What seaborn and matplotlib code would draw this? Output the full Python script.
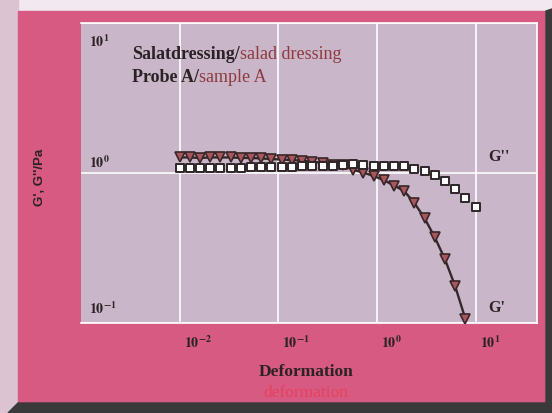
import matplotlib
matplotlib.use("Agg")
import pandas as pd
import matplotlib.pyplot as plt
import matplotlib.transforms as mtransforms
from matplotlib.patches import Rectangle, Polygon
import seaborn as sb

# amplitude sweep, salad dressing sample A
deformation = [0.0100, 0.0127, 0.0161, 0.0204, 0.0259, 0.0329, 0.0418, 0.0530, 0.0672, 0.0853,
               0.108, 0.137, 0.174, 0.221, 0.281, 0.356, 0.452, 0.574, 0.728, 0.924,
               1.17, 1.49, 1.89, 2.40, 3.04, 3.86, 4.89, 6.21, 7.88, 10.0]
g_storage = [1.26, 1.26, 1.25, 1.26, 1.26, 1.26, 1.25, 1.25, 1.24, 1.23,
             1.22, 1.21, 1.20, 1.18, 1.16, 1.12, 1.12, 1.04, 1.00, 0.948,
             0.891, 0.819, 0.753, 0.626, 0.497, 0.370, 0.265, 0.175, 0.106]
g_loss = [1.07, 1.07, 1.07, 1.07, 1.07, 1.07, 1.07, 1.08, 1.08, 1.08,
          1.09, 1.09, 1.10, 1.10, 1.105, 1.11, 1.12, 1.14, 1.13, 1.11,
          1.11, 1.11, 1.11, 1.055, 1.02, 0.96, 0.88, 0.78, 0.68, 0.59]
x_ticks = [0.01, 0.1, 1, 10]
x_ticklabels = [r"$\mathbf{10^{-2}}$", r"$\mathbf{10^{-1}}$", r"$\mathbf{10^{0}}$", r"$\mathbf{10^{1}}$"]
y_ticks = [10, 1, 0.1]
y_ticklabels = [r"$\mathbf{10^{1}}$", r"$\mathbf{10^{0}}$", r"$\mathbf{10^{-1}}$"]

df_gs = pd.DataFrame({"x": deformation[:len(g_storage)], "y": g_storage})
df_gl = pd.DataFrame({"x": deformation, "y": g_loss})

pink = "#d65a82"
plot_bg = "#c9b6c9"
dark = "#2e2628"
ink = "#2a2224"

sb.set_theme(style="white")
plt.rcParams["font.family"] = ["Liberation Serif", "DejaVu Serif"]
plt.rcParams["mathtext.fontset"] = "stix"

fig = plt.figure(figsize=(5.52, 4.14), dpi=100)
fig.patch.set_facecolor("#f1e9ef")
W, H = 552.0, 414.0
# frame: lavender strip left, pink panel, dark shadow
fig.add_artist(Rectangle((0, 0), 18 / W, 1, transform=fig.transFigure, color="#dcc3d1", zorder=0))
fig.add_artist(Rectangle((18 / W, 10 / H), (546 - 18) / W, (404 - 12) / H,
                         transform=fig.transFigure, color=pink, zorder=0))
fig.add_artist(Polygon([(8 / W, 0), (552 / W, 0), (552 / W, (414 - 10) / H), (546 / W, (414 - 12) / H),
                        (546 / W, 10 / H), (18 / W, 10 / H)],
                       closed=True, transform=fig.transFigure, color="#3a3a3a", zorder=0))

ax = fig.add_axes([81 / W, 1 - 323.5 / H, (537 - 81) / W, (323.5 - 23.5) / H])
ax.set_facecolor(plot_bg)
ax.set_xscale("log")
ax.set_yscale("log")
ax.set_xlim(1e-3, 42)
ax.set_ylim(0.1, 10)

sb.lineplot(x="x", y="y", data=df_gs, ax=ax, color="#33282a", linewidth=1.7, marker="v",
            markersize=7, markerfacecolor="#a8575c", markeredgecolor="#3a2628", markeredgewidth=1.2,
            zorder=3)
sb.scatterplot(x="x", y="y", data=df_gl, ax=ax, marker="s", s=34, color="white",
               edgecolor=dark, linewidth=1.4, zorder=4)

ax.set_xticks(x_ticks)
ax.set_xticklabels(x_ticklabels, fontsize=10)
ax.minorticks_off()
ax.set_yticks(y_ticks)
ax.set_yticklabels([])
ax.tick_params(axis="x", direction="out", length=11.5, width=1.2, color="white", pad=-3.5,
               labelcolor=ink)
ax.tick_params(axis="y", length=0)
shift = mtransforms.ScaledTranslation(3 / 72, 0, fig.dpi_scale_trans)
for lab in ax.get_xticklabels():
    lab.set_horizontalalignment("left")
    lab.set_transform(lab.get_transform() + shift)
ax.grid(True, color="white", linewidth=1.2)
for s in ax.spines.values():
    s.set_color("white")
    s.set_linewidth(1.2)
ax.spines["left"].set_visible(False)
ax.set_xlabel("")
ax.set_ylabel("")

# y labels sit inside the plot
ytr = ax.get_yaxis_transform()
ax.text(0.018, 10, y_ticklabels[0], transform=ytr + mtransforms.ScaledTranslation(0, -7 / 72, fig.dpi_scale_trans),
        ha="left", va="top", fontsize=10, color=ink)
ax.text(0.018, 1, y_ticklabels[1], transform=ytr + mtransforms.ScaledTranslation(0, 2 / 72, fig.dpi_scale_trans),
        ha="left", va="bottom", fontsize=10, color=ink)
ax.text(0.018, 0.1, y_ticklabels[2], transform=ytr + mtransforms.ScaledTranslation(0, 5 / 72, fig.dpi_scale_trans),
        ha="left", va="bottom", fontsize=10, color=ink)

# title lines inside the plot
t1 = ax.text(51 / 456, 1 - 31 / 300, "Salatdressing/", transform=ax.transAxes, ha="left", va="center",
             fontsize=13, fontweight="bold", color=ink)
ax.annotate("salad dressing", xy=(1, 0), xycoords=t1, ha="left", va="bottom",
            fontsize=13, color="#8e3a3e")
t2 = ax.text(51 / 456, 1 - 54 / 300, "Probe A/", transform=ax.transAxes, ha="left", va="center",
             fontsize=13, fontweight="bold", color=ink)
ax.annotate("sample A", xy=(1, 0), xycoords=t2, ha="left", va="bottom",
            fontsize=13, color="#8e3a3e")

# curve names
ax.text(407 / 456, 1 - 134 / 300, "G''", transform=ax.transAxes, ha="left", va="center",
        fontsize=11.5, fontweight="bold", color=ink)
ax.text(407 / 456, 1 - 285 / 300, "G'", transform=ax.transAxes, ha="left", va="center",
        fontsize=11.5, fontweight="bold", color=ink)

# axis titles
fig.text(306 / W, 1 - 372 / H, "Deformation", ha="center", va="center", fontsize=12.5,
         fontweight="bold", color=ink)
fig.text(306 / W, 1 - 393 / H, "deformation", ha="center", va="center", fontsize=12.5,
         color="#e8405e")
fig.text(40 / W, 1 - 177 / H, "G', G''/Pa", ha="center", va="center", rotation=90,
         fontsize=9.5, fontweight="bold", color=ink, family=["Liberation Sans", "DejaVu Sans"])

fig.savefig("out.png", dpi=100, facecolor=fig.get_facecolor())
